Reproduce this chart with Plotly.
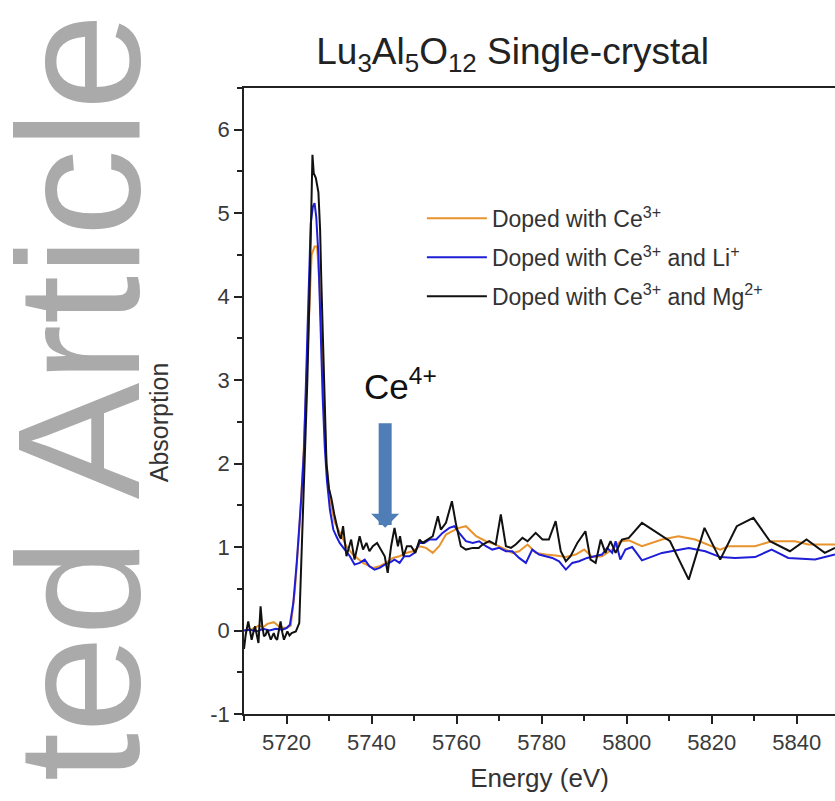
import plotly.graph_objects as go

# ---------------- data ----------------
energy_ce = [5710.0, 5712.0, 5713.5, 5714.5, 5715.5, 5717.0, 5718.5, 5720.0, 5721.0, 5722.0,
             5723.0, 5724.0, 5725.0, 5725.9, 5726.6, 5727.2, 5727.8, 5728.3, 5728.8, 5729.3,
             5729.8, 5730.5, 5731.3, 5732.5, 5734.1, 5735.6, 5738.0, 5740.3, 5741.9, 5743.4,
             5745.0, 5746.6, 5748.1, 5749.7, 5751.3, 5752.8, 5754.4, 5755.9, 5757.5, 5759.0,
             5760.6, 5762.2, 5763.8, 5764.6, 5766.9, 5769.2, 5771.6, 5773.1, 5774.7, 5776.7,
             5778.6, 5781.0, 5783.3, 5785.7, 5788.0, 5790.0, 5791.9, 5794.2, 5796.6, 5798.5,
             5800.5, 5803.6, 5808.3, 5812.2, 5816.1, 5819.3, 5822.0, 5823.9, 5830.2, 5834.1,
             5839.6, 5842.7, 5849.0]
abs_ce = [0.0, 0.02, 0.06, 0.04, 0.08, 0.10, 0.04, 0.03, 0.06, 0.50,
          1.20, 2.10, 3.40, 4.50, 4.60, 4.60, 4.10, 3.40, 2.70, 2.10,
          1.75, 1.50, 1.30, 1.17, 1.01, 0.91, 0.81, 0.75, 0.77, 0.81,
          0.87, 0.89, 0.93, 0.95, 1.01, 0.99, 0.93, 1.01, 1.15, 1.19,
          1.23, 1.25, 1.17, 1.13, 1.07, 1.03, 0.97, 0.93, 0.95, 1.03,
          0.93, 0.91, 0.90, 0.88, 0.91, 0.97, 0.88, 0.89, 0.97, 1.07,
          1.08, 1.01, 1.09, 1.13, 1.09, 1.03, 0.97, 1.01, 1.01, 1.07,
          1.07, 1.03, 1.03]

energy_li = [5710.0, 5711.5, 5713.0, 5714.5, 5716.0, 5717.5, 5719.0, 5720.0, 5720.8, 5721.6,
             5722.4, 5723.0, 5723.5, 5724.1, 5724.6, 5725.1, 5725.7, 5726.2, 5726.6, 5727.0,
             5727.5, 5728.0, 5728.5, 5729.0, 5729.5, 5730.2, 5731.0, 5731.8, 5732.5, 5733.7,
             5734.9, 5736.0, 5737.2, 5738.4, 5739.5, 5740.7, 5741.9, 5743.1, 5744.2, 5745.4,
             5746.6, 5747.7, 5748.9, 5750.1, 5751.3, 5752.4, 5753.6, 5755.2, 5756.7, 5758.3,
             5759.5, 5760.6, 5762.2, 5763.8, 5765.3, 5766.9, 5768.4, 5770.0, 5771.6, 5773.1,
             5774.7, 5776.3, 5777.8, 5779.4, 5781.0, 5782.5, 5784.1, 5785.7, 5787.2, 5788.8,
             5790.7, 5792.7, 5794.2, 5795.4, 5796.6, 5797.4, 5798.5, 5799.7, 5801.3, 5803.6,
             5808.3, 5814.6, 5818.5, 5822.0, 5825.5, 5830.2, 5834.1, 5838.0, 5844.3, 5849.0]
abs_li = [0.0, 0.01, -0.01, 0.02, 0.0, 0.02, 0.01, 0.03, 0.07, 0.33,
          0.81, 1.21, 1.61, 2.16, 2.90, 3.88, 4.88, 5.08, 5.12, 4.95,
          4.50, 3.60, 2.80, 2.20, 1.80, 1.45, 1.21, 1.12, 1.05, 0.97,
          0.89, 0.79, 0.81, 0.85, 0.77, 0.73, 0.75, 0.79, 0.81, 0.85,
          0.81, 0.89, 0.89, 0.93, 1.05, 1.05, 1.09, 1.09, 1.17, 1.23,
          1.25, 1.17, 1.07, 1.05, 1.07, 1.01, 0.97, 0.99, 0.95, 0.95,
          0.87, 0.81, 0.97, 0.91, 0.89, 0.87, 0.83, 0.73, 0.81, 0.83,
          0.87, 0.89, 0.91, 0.99, 0.93, 1.07, 0.85, 0.97, 1.00, 0.84,
          0.93, 0.99, 0.95, 0.88, 0.87, 0.88, 0.97, 0.87, 0.85, 0.91]

energy_mg = [5710.0, 5710.4, 5711.0, 5711.5, 5711.8, 5712.3, 5712.6, 5713.0, 5713.4, 5713.9,
             5714.3, 5714.7, 5715.1, 5715.5, 5716.3, 5717.0, 5717.4, 5717.8, 5718.6, 5719.0,
             5719.4, 5720.2, 5720.7, 5721.2, 5722.2, 5723.0, 5723.5, 5723.9, 5724.3, 5724.9,
             5725.4, 5725.8, 5726.1, 5726.4, 5726.9, 5727.5, 5727.9, 5728.2, 5728.7, 5729.1,
             5729.4, 5730.0, 5730.6, 5731.2, 5731.7, 5732.3, 5732.8, 5733.3, 5734.1, 5735.2,
             5736.0, 5737.2, 5738.0, 5738.8, 5739.5, 5740.3, 5741.3, 5742.3, 5743.1, 5743.8,
             5744.6, 5745.4, 5746.2, 5746.7, 5747.5, 5748.3, 5749.3, 5750.3, 5751.3, 5752.0,
             5753.2, 5754.4, 5755.6, 5756.3, 5757.5, 5758.9, 5759.8, 5761.0, 5762.2, 5763.8,
             5765.2, 5766.1, 5767.7, 5769.2, 5770.4, 5771.6, 5772.8, 5773.9, 5775.5, 5776.7,
             5778.6, 5780.2, 5781.7, 5783.3, 5784.5, 5785.7, 5786.8, 5788.4, 5790.3, 5791.5,
             5792.7, 5793.9, 5795.0, 5796.2, 5797.4, 5798.9, 5800.5, 5803.6, 5810.2, 5814.6,
             5818.3, 5822.0, 5825.9, 5829.8, 5833.7, 5838.4, 5842.3, 5846.6, 5849.0]
abs_mg = [-0.22, -0.05, 0.11, -0.05, -0.11, 0.0, 0.05, -0.05, -0.15, 0.29,
          0.05, -0.07, -0.05, 0.01, -0.11, -0.03, -0.09, -0.11, 0.11, -0.02,
          -0.11, -0.01, -0.06, -0.03, -0.01, 0.09, 0.81, 1.61, 2.20, 3.00,
          4.00, 5.00, 5.70, 5.48, 5.42, 5.25, 4.80, 4.16, 3.30, 2.70,
          2.00, 1.70, 1.57, 1.40, 1.29, 1.15, 1.10, 1.25, 0.89, 1.09,
          0.85, 1.13, 0.97, 1.05, 0.95, 1.01, 1.05, 0.97, 0.89, 0.69,
          1.01, 1.23, 1.01, 1.13, 0.89, 1.01, 1.01, 0.93, 1.09, 1.05,
          1.09, 1.13, 1.37, 1.21, 1.29, 1.55, 1.29, 1.01, 0.97, 0.99,
          0.99, 1.03, 1.07, 1.03, 1.39, 1.01, 0.99, 1.03, 1.11, 1.07,
          1.17, 1.09, 1.09, 1.31, 0.95, 0.83, 0.89, 1.05, 1.19, 0.85,
          0.81, 1.09, 0.93, 1.07, 0.93, 1.09, 1.11, 1.29, 1.07, 0.61,
          1.23, 0.85, 1.25, 1.35, 1.07, 0.95, 1.09, 0.93, 0.99]

series_names = ["Doped with Ce<sup>3+</sup>",
                "Doped with Ce<sup>3+</sup> and Li<sup>+</sup>",
                "Doped with Ce<sup>3+</sup> and Mg<sup>2+</sup>"]
series_colors = ["#E8932E", "#1E1ED8", "#111111"]

x_ticks = [5720, 5740, 5760, 5780, 5800, 5820, 5840]
x_tick_labels = ["5720", "5740", "5760", "5780", "5800", "5820", "5840"]
y_ticks = [-1, 0, 1, 2, 3, 4, 5, 6]
y_tick_labels = ["-1", "0", "1", "2", "3", "4", "5", "6"]

FONT = "Liberation Sans, Arial, sans-serif"

fig = go.Figure()
for xs, ys, name, col in zip([energy_ce, energy_li, energy_mg],
                             [abs_ce, abs_li, abs_mg],
                             series_names, series_colors):
    fig.add_trace(go.Scatter(x=xs, y=ys, mode="lines", name=name,
                             legendgroup=name,
                             line=dict(color=col, width=2)))

fig.update_layout(
    width=835, height=801,
    margin=dict(l=244, r=0, t=88, b=87),
    paper_bgcolor="white", plot_bgcolor="white",
    font=dict(family=FONT, color="#333333"),
    title=dict(text="Lu<sub>3</sub>Al<sub>5</sub>O<sub>12</sub> Single-crystal",
               x=0.614, xanchor="center", xref="container",
               y=0.936, yanchor="middle", yref="container",
               font=dict(size=37, color="#222222", family=FONT)),
    showlegend=True,
    legend=dict(x=0.301, y=0.826, xanchor="left", yanchor="top",
                bgcolor="rgba(0,0,0,0)", font=dict(size=23, color="#333333"),
                tracegroupgap=6, itemwidth=60),
    xaxis=dict(range=[5710, 5849], tickvals=x_ticks, ticktext=x_tick_labels,
               ticks="outside", ticklen=8,
               tickwidth=1.5, tickcolor="#222", showline=True, linecolor="#222",
               linewidth=1.5, mirror=True, showgrid=False, zeroline=False,
               tickfont=dict(size=22, color="#3a3a3a"),
               minor=dict(dtick=10, tick0=5710, ticks="outside", ticklen=5,
                          tickcolor="#222", tickwidth=1.5),
               title=dict(text="Energy (eV)", font=dict(size=26, color="#333333"),
                          standoff=15)),
    yaxis=dict(range=[-1, 6.5], tickvals=y_ticks, ticktext=y_tick_labels,
               ticks="outside", ticklen=8,
               tickwidth=1.5, tickcolor="#222", showline=True, linecolor="#222",
               linewidth=1.5, mirror=False, showgrid=False, zeroline=False,
               tickfont=dict(size=22, color="#3a3a3a"),
               minor=dict(dtick=0.5, tick0=-1, ticks="outside", ticklen=5,
                          tickcolor="#222", tickwidth=1.5)),
)

# y axis title as annotation (positioned off-centre as in the original)
fig.add_annotation(text="Absorption", xref="paper", yref="paper",
                   x=-0.171, y=0.466, showarrow=False, textangle=-90,
                   font=dict(size=25, color="#333333", family=FONT))

# Ce4+ label and arrow
fig.add_annotation(text="Ce<sup>4+</sup>", xref="x", yref="y", x=5746.7, y=2.95,
                   showarrow=False, font=dict(size=35, color="#111111", family=FONT))
fig.add_annotation(text="", xref="x", yref="y", x=5743.2, y=1.23,
                   showarrow=True, ax=0, ay=-106, arrowhead=1, arrowsize=0.36,
                   arrowwidth=13, arrowcolor="#4F7DB5")

# watermark text (cropped "Accepted Article" stamp)
fig.add_annotation(text="ted Article", xref="paper", yref="paper", x=-0.448, y=0.505,
                   showarrow=False, textangle=-90,
                   font=dict(size=175, color="#AAAAAA", family=FONT))

fig.write_html("out.html")
